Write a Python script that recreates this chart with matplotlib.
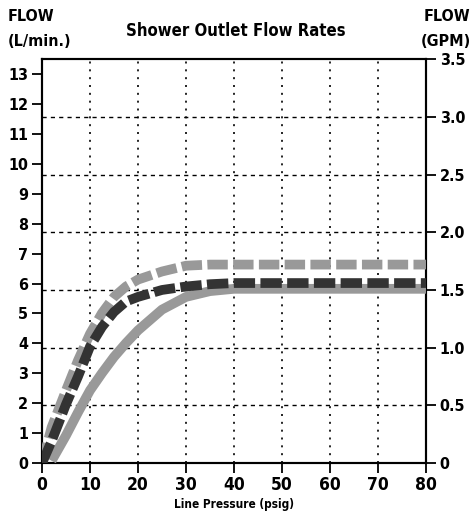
import matplotlib.pyplot as plt

plt.rcParams['font.family'] = ['DejaVu Sans']
plt.rcParams['font.stretch'] = 'condensed'
plt.rcParams['font.weight'] = 'bold'
plt.rcParams['axes.labelweight'] = 'bold'

# line pressure (psig) and flow (GPM)
pressure = [0, 2, 5, 7.5, 10, 12.5, 15, 17.5, 20, 25, 30, 35, 40, 50, 60, 70, 80]
flow_solid = [None, 0.02, 0.24, 0.44, 0.63, 0.78, 0.92, 1.04, 1.15, 1.33, 1.44, 1.49, 1.51, 1.51, 1.51, 1.51, 1.51]
flow_light = [0.0, 0.31, 0.63, 0.89, 1.12, 1.30, 1.44, 1.53, 1.59, 1.66, 1.71, 1.72, 1.72, 1.72, 1.72, 1.72, 1.72]
flow_dark = [0.0, 0.19, 0.51, 0.75, 1.01, 1.18, 1.31, 1.40, 1.44, 1.50, 1.53, 1.55, 1.56, 1.56, 1.56, 1.56, 1.56]

lpm_ticks = list(range(0, 14))
gpm_ticks = [0, 0.5, 1.0, 1.5, 2.0, 2.5, 3.0, 3.5]
gpm_labels = ['0', '0.5', '1.0', '1.5', '2.0', '2.5', '3.0', '3.5']
x_ticks = [0, 10, 20, 30, 40, 50, 60, 70, 80]

fig = plt.figure(figsize=(4.72, 5.14), dpi=100)
ax = fig.add_axes([0.089, 0.099, 0.8135, 0.786])
ax2 = ax.twinx()

ax.set_xlim(0, 80)
ax.set_ylim(0, 13.5)
ax2.set_ylim(0, 3.5)

# grid
for x in x_ticks[1:-1]:
    ax2.axvline(x, color='black', lw=1.2, ls=(0, (1.2, 3.5)), zorder=1)
for g in gpm_ticks[1:-1]:
    ax2.axhline(g, color='black', lw=1.0, ls=(0, (3, 3)), zorder=1)

xs = [p for p, v in zip(pressure, flow_solid) if v is not None]
ys = [v for v in flow_solid if v is not None]
ax2.plot(xs, ys, color='#999999', lw=7, solid_capstyle='butt', zorder=3)
ax2.plot(pressure, flow_light, color='#999999', lw=7, ls=(0, (2.1, 0.55)),
         dash_capstyle='butt', zorder=4)
ax2.plot(pressure, flow_dark, color='#333333', lw=7, ls=(0, (2.2, 0.55)),
         dash_capstyle='butt', zorder=5)

ax.set_xticks(x_ticks)
ax.set_yticks(lpm_ticks)
ax2.set_yticks(gpm_ticks)
ax2.set_yticklabels(gpm_labels)

for a in (ax, ax2):
    for s in a.spines.values():
        s.set_linewidth(1.5)
    a.tick_params(width=1.3, length=7, labelsize=11.5, pad=3)
ax.tick_params(axis='x', length=7, labelsize=12.5, pad=2)

ax.set_xlabel('Line Pressure (psig)', fontsize=8.5, labelpad=3)

fig.text(0.017, 0.982, 'FLOW', fontsize=11.5, ha='left', va='top')
fig.text(0.017, 0.934, '(L/min.)', fontsize=11.5, ha='left', va='top')
fig.text(0.997, 0.982, 'FLOW', fontsize=11.5, ha='right', va='top')
fig.text(0.997, 0.934, '(GPM)', fontsize=11.5, ha='right', va='top')
fig.text(0.5, 0.94, 'Shower Outlet Flow Rates', fontsize=12, ha='center', va='center')

fig.savefig('out.png', dpi=100)
